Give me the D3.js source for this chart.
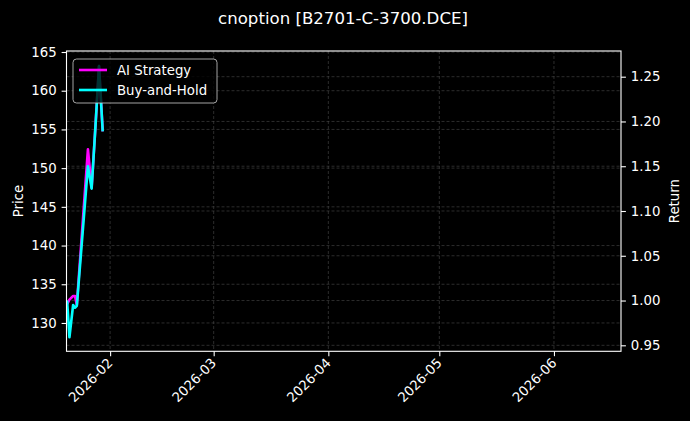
<!DOCTYPE html>
<html>
<head>
<meta charset="utf-8">
<script src="https://cdn.jsdelivr.net/npm/d3@7"></script>
<style>
  body { margin: 0; background: #000; }
  svg { display: block; font-family: "DejaVu Sans", sans-serif; }
</style>
</head>
<body>
<div id="chart"></div>
<script>
// Series (returns on the right axis).
const dates = [
    "2026-01-20T09:00", "2026-01-21T00:00", "2026-01-22T00:00", "2026-01-22T12:00",
    "2026-01-23T00:00", "2026-01-26T00:00", "2026-01-27T00:00", "2026-01-28T00:00",
    "2026-01-29T00:00", "2026-01-30T00:00"
];
const aiStrategy = [0.996, 1.001, 1.005, 1.005, 0.995, 1.169, 1.126, 1.192, 1.262, 1.189];
const buyHold    = [1.000, 0.959, 0.995, 0.992, 0.994, 1.150, 1.125, 1.192, 1.262, 1.189];

const priceTicks = [130, 135, 140, 145, 150, 155, 160, 165];
const returnTicks = [0.95, 1.00, 1.05, 1.10, 1.15, 1.20, 1.25];
const monthTicks = ["2026-02-01T00:00", "2026-03-01T00:00", "2026-04-01T00:00", "2026-05-01T00:00", "2026-06-01T00:00"];
const xDomain = ["2026-01-20T05:00", "2026-06-19T03:00"];
const priceDomain = [126.34, 165.13];
const returnDomain = [0.9433, 1.2787];

const title = "cnoption [B2701-C-3700.DCE]";
const seriesNames = ["AI Strategy", "Buy-and-Hold"];
const seriesColors = ["#ff00ff", "#00ffff"];

const width = 690;
const height = 421;
const marginTop = 51;
const marginRight = 69;
const marginBottom = 69.7;
const marginLeft = 66.5;
const font = "DejaVu Sans, sans-serif";
const fontSize = 13.3;

const parse = d3.utcParse("%Y-%m-%dT%H:%M");

const x = d3.scaleUtc()
    .domain(xDomain.map(parse))
    .range([marginLeft, width - marginRight]);

const yPrice = d3.scaleLinear()
    .domain(priceDomain)
    .range([height - marginBottom, marginTop]);

const yReturn = d3.scaleLinear()
    .domain(returnDomain)
    .range([height - marginBottom, marginTop]);

const svg = d3.select("#chart").append("svg")
    .attr("width", width)
    .attr("height", height)
    .attr("viewBox", [0, 0, width, height])
    .attr("font-family", font);

svg.append("rect")
    .attr("width", width)
    .attr("height", height)
    .attr("fill", "#000");

svg.append("defs").append("clipPath")
    .attr("id", "plot-clip")
  .append("rect")
    .attr("x", marginLeft)
    .attr("y", marginTop)
    .attr("width", width - marginLeft - marginRight)
    .attr("height", height - marginTop - marginBottom);

// Grid: months, price ticks and return ticks all get dashed lines.
const grid = svg.append("g")
    .attr("stroke", "#4a4a4a")
    .attr("stroke-width", 0.6)
    .attr("stroke-dasharray", "3,2");

grid.selectAll(".vgrid")
  .data(monthTicks.map(parse))
  .join("line")
    .attr("x1", d => x(d))
    .attr("x2", d => x(d))
    .attr("y1", marginTop)
    .attr("y2", height - marginBottom);

grid.selectAll(".pgrid")
  .data(priceTicks)
  .join("line")
    .attr("x1", marginLeft)
    .attr("x2", width - marginRight)
    .attr("y1", d => yPrice(d))
    .attr("y2", d => yPrice(d));

grid.selectAll(".rgrid")
  .data(returnTicks)
  .join("line")
    .attr("x1", marginLeft)
    .attr("x2", width - marginRight)
    .attr("y1", d => yReturn(d))
    .attr("y2", d => yReturn(d));

// Lines
const series = [aiStrategy, buyHold];
const line = d3.line()
    .x((d, i) => x(parse(dates[i])))
    .y(d => yReturn(d));

svg.append("g")
    .attr("clip-path", "url(#plot-clip)")
  .selectAll("path")
  .data(series)
  .join("path")
    .attr("fill", "none")
    .attr("stroke", (d, i) => seriesColors[i])
    .attr("stroke-width", 2.6)
    .attr("stroke-linejoin", "round")
    .attr("d", line);

// Axes
const styleAxis = g => {
    g.attr("font-family", font).attr("font-size", fontSize);
    g.selectAll(".domain").remove();
    g.selectAll(".tick line").attr("stroke", "#fff").attr("stroke-width", 1.1);
    g.selectAll(".tick text").attr("fill", "#fff");
};

svg.append("g")
    .attr("transform", `translate(0,${height - marginBottom})`)
    .call(d3.axisBottom(x)
        .tickValues(monthTicks.map(parse))
        .tickFormat(d3.utcFormat("%Y-%m"))
        .tickSize(4.9)
        .tickPadding(4.9))
    .call(styleAxis)
    .call(g => g.selectAll(".tick text")
        .attr("text-anchor", "end")
        .attr("transform", "rotate(-45)")
        .attr("dx", -6.8)
        .attr("dy", "0.55em")
        .attr("y", 3.6));

svg.append("g")
    .attr("transform", `translate(${marginLeft},0)`)
    .call(d3.axisLeft(yPrice).tickValues(priceTicks).tickFormat(d3.format("d")).tickSize(4.9).tickPadding(4.9))
    .call(styleAxis);

svg.append("g")
    .attr("transform", `translate(${width - marginRight},0)`)
    .call(d3.axisRight(yReturn).tickValues(returnTicks).tickFormat(d3.format(".2f")).tickSize(4.9).tickPadding(4.9))
    .call(styleAxis);

// Frame
svg.append("rect")
    .attr("x", marginLeft)
    .attr("y", marginTop)
    .attr("width", width - marginLeft - marginRight)
    .attr("height", height - marginTop - marginBottom)
    .attr("fill", "none")
    .attr("stroke", "#fff")
    .attr("stroke-width", 1.1);

// Labels
svg.append("text")
    .attr("x", 343)
    .attr("y", 24)
    .attr("text-anchor", "middle")
    .attr("fill", "#fff")
    .attr("font-size", 16.6)
    .text(title);

svg.append("text")
    .attr("transform", `translate(23,${(marginTop + height - marginBottom) / 2}) rotate(-90)`)
    .attr("text-anchor", "middle")
    .attr("fill", "#fff")
    .attr("font-size", fontSize)
    .text("Price");

svg.append("text")
    .attr("transform", `translate(679,${(marginTop + height - marginBottom) / 2}) rotate(-90)`)
    .attr("text-anchor", "middle")
    .attr("fill", "#fff")
    .attr("font-size", fontSize)
    .text("Return");

// Legend
const legend = svg.append("g").attr("transform", "translate(73,59)");
legend.append("rect")
    .attr("width", 144)
    .attr("height", 44)
    .attr("rx", 3.5)
    .attr("fill", "#000")
    .attr("fill-opacity", 0.8)
    .attr("stroke", "#ccc")
    .attr("stroke-opacity", 0.8);

const entries = legend.selectAll(".entry")
  .data(seriesNames)
  .join("g")
    .attr("transform", (d, i) => `translate(0,${11 + i * 20})`);

entries.append("line")
    .attr("x1", 6)
    .attr("x2", 34)
    .attr("stroke", (d, i) => seriesColors[i])
    .attr("stroke-width", 2.6);

entries.append("text")
    .attr("x", 44)
    .attr("dy", "0.35em")
    .attr("fill", "#fff")
    .attr("font-size", fontSize)
    .text(d => d);
</script>
</body>
</html>
